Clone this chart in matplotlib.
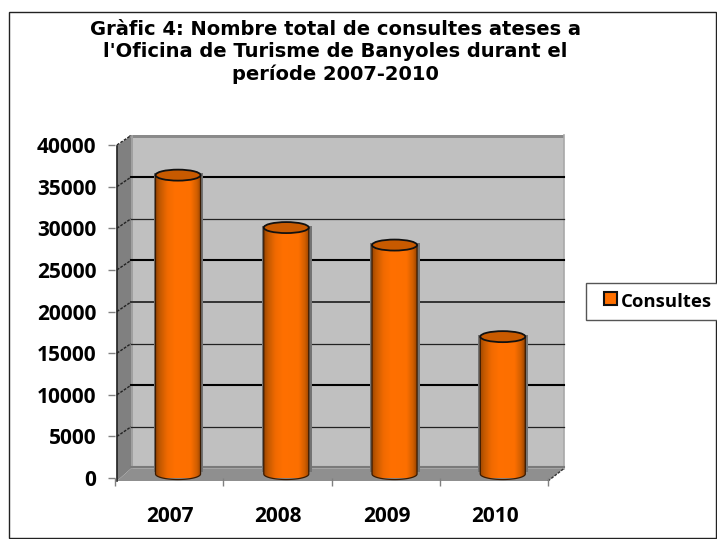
import numpy as np
import matplotlib
matplotlib.use("Agg")
import matplotlib.pyplot as plt
from matplotlib.patches import Polygon, Ellipse, PathPatch, Patch, Rectangle
from matplotlib.path import Path
from matplotlib.colors import LinearSegmentedColormap
from matplotlib.transforms import Affine2D
from matplotlib.legend_handler import HandlerPatch

title = "Gràfic 4: Nombre total de consultes ateses a\nl'Oficina de Turisme de Banyoles durant el\nperíode 2007-2010"
years = ["2007", "2008", "2009", "2010"]
consultes = [35900, 29600, 27500, 16500]
yticks = [0, 5000, 10000, 15000, 20000, 25000, 30000, 35000, 40000]
grid_widths = [0, 0.9, 1.5, 0.9, 1.4, 1.5, 0.9, 1.5, 0]
grid_colors = ["#000000", "#222222", "#000000", "#222222", "#333333", "#000000", "#222222", "#000000", "#000000"]
series_name = "Consultes"

W, H = 717, 539
fig = plt.figure(figsize=(W / 100, H / 100), dpi=100, facecolor="white")
fig.add_artist(Rectangle((8.5 / W, 1 / H), (W - 9.5) / W, (H - 13) / H, transform=fig.transFigure,
                         fill=False, ec="#222222", lw=1.0))

L, R, T, B = 115, 548, 145, 478
ax = fig.add_axes([L / W, 1 - B / H, (R - L) / W, (B - T) / H])
ax.set_xlim(0, 4)
ax.set_ylim(0, 40000)
ax.patch.set_visible(False)
for s in ax.spines.values():
    s.set_visible(False)

DX, DY = 16, 9.5
back = ax.transData + Affine2D().translate(DX, DY)
mid = ax.transData + Affine2D().translate(8.9, 4)

# walls
ax.add_patch(Polygon([(0, 0), (4, 0), (4, 40000), (0, 40000)], transform=back, fc="#c0c0c0", ec="none", zorder=1, clip_on=False))
ax.add_patch(Polygon([(-0.02, 40000), (4, 40000), (4, 39650), (-0.02, 39650)], transform=back, fc="#8a8a8a", ec="none", zorder=1.2, clip_on=False))
ax.add_patch(Polygon([(0, 0), (0, 40000), (0.02, 40000), (0.02, 0)], transform=back, fc="#a0a0a0", ec="none", zorder=1.2, clip_on=False))
ax.plot([4, 4], [0, 40000], transform=back, color="#a8a8a8", lw=1.2, zorder=1.2, clip_on=False)

# left wall and floor
ox = DX / ((R - L) / 4)
oy = DY / ((B - T) / 40000)
sx, sy = 0.018, -360
ax.add_patch(Polygon([(sx, sy), (ox, oy), (ox, 40000 + oy), (sx, 39900)], fc="#808080", ec="none", zorder=1, clip_on=False))
ax.add_patch(Polygon([(sx, sy), (4, sy), (4 + ox, oy), (ox, oy)], fc="#8f8f8f", ec="none", zorder=1, clip_on=False))
ax.plot([ox, 4 + ox], [oy + 150, oy + 150], color="#7a7a7a", lw=1.5, zorder=1.3, clip_on=False)
ax.plot([sx, sx], [sy, 39900], color="#222222", lw=1.2, zorder=1.5, clip_on=False)
ax.plot([4, 4 + ox], [sy, oy], color="#333333", lw=1.0, ls=(0, (2, 1)), zorder=1.5, clip_on=False)

# gridlines
for v, lw, c in zip(yticks, grid_widths, grid_colors):
    if lw:
        ax.plot([0, 4], [v, v], transform=back, color=c, lw=lw, zorder=2, clip_on=False)
    if v:
        ax.plot([sx, ox], [v, v + oy], color="#222222", lw=1.0, ls=(0, (2, 1)), zorder=2, clip_on=False)

# cylinders
x = np.arange(4) + 0.5
bw = 0.416
ry = 5.5 / ((B - T) / 40000)
cmap = LinearSegmentedColormap.from_list("cyl", [
    (0, "#a04800"), (0.08, "#c25800"), (0.24, "#f06a00"), (0.42, "#ff7000"),
    (0.76, "#fc6f00"), (0.90, "#d05e00"), (1, "#8f4000")])
grad = np.linspace(0, 1, 64).reshape(1, -1)
theta = np.linspace(np.pi, 2 * np.pi, 40)
ax.bar(x, consultes, width=bw + 0.045, color="#737373", transform=mid + Affine2D().translate(0.5, 2), zorder=2.5, clip_on=False)
for xi, v in zip(x, consultes):
    ex = xi + bw / 2 * np.cos(theta)
    ey = ry * np.sin(theta)
    verts = list(zip(ex, ey)) + [(xi + bw / 2, v), (xi - bw / 2, v), (xi - bw / 2, 0)]
    clip = Path(verts, closed=False)
    body = PathPatch(clip, transform=mid, fc="none", ec="none", zorder=3, clip_on=False)
    ax.add_patch(body)
    im = ax.imshow(grad, extent=[xi - bw / 2, xi + bw / 2, -ry, v], aspect="auto", cmap=cmap,
                   transform=mid, zorder=3, interpolation="bilinear", clip_on=True)
    im.set_clip_path(body)
    ax.add_patch(PathPatch(clip, transform=mid, fc="none", ec="#3a1a00", lw=0.9, zorder=3.2, clip_on=False))
    ax.add_patch(Ellipse((xi, v), bw, 2 * ry, transform=mid, fc="#c85a00", ec="#111111", lw=1.3, zorder=3.4, clip_on=False))
ax.set_xlim(0, 4)
ax.set_ylim(0, 40000)

# axes ticks and labels
ax.set_yticks(yticks)
ax.set_xticks(np.arange(5))
ax.set_xticklabels([])
ax.tick_params(axis="y", length=5, width=1, color="#808080", pad=8.5)
ax.tick_params(axis="x", length=6, width=1, color="#808080")
for t in ax.get_yticklabels():
    t.set_fontfamily("Open Sans")
    t.set_fontweight("bold")
    t.set_fontsize(15)
for xi, y in zip(x, years):
    ax.annotate(y, (xi, 0), xytext=(1, -38), textcoords="offset pixels", ha="center", va="center",
                family="Open Sans", weight="bold", fontsize=15, color="black")

fig.text(335 / W, 1 - 52 / H, title, ha="center", va="center", family="DejaVu Sans", weight="bold",
         fontsize=14, linespacing=1.23, color="black")


def swatch(legend=None, orig_handle=None, xdescent=0, ydescent=0, width=0, height=0, fontsize=0):
    side = 9.4
    return Rectangle((width - side - 1.0, (height - side) / 2), side, side)


leg = fig.legend(handles=[Patch(fc="#ff7000", ec="#111111", lw=1.5, label=series_name)],
                 loc="center left", bbox_to_anchor=(586 / W, 1 - 301.5 / H),
                 frameon=True, fancybox=False, edgecolor="#555555", framealpha=1,
                 prop={"family": "Open Sans", "weight": "bold", "size": 13.3},
                 handler_map={Patch: HandlerPatch(patch_func=swatch)},
                 handlelength=1.25, handleheight=0.9, handletextpad=0.14, borderpad=0.5, borderaxespad=0)
fig.savefig("out.png", dpi=100)
